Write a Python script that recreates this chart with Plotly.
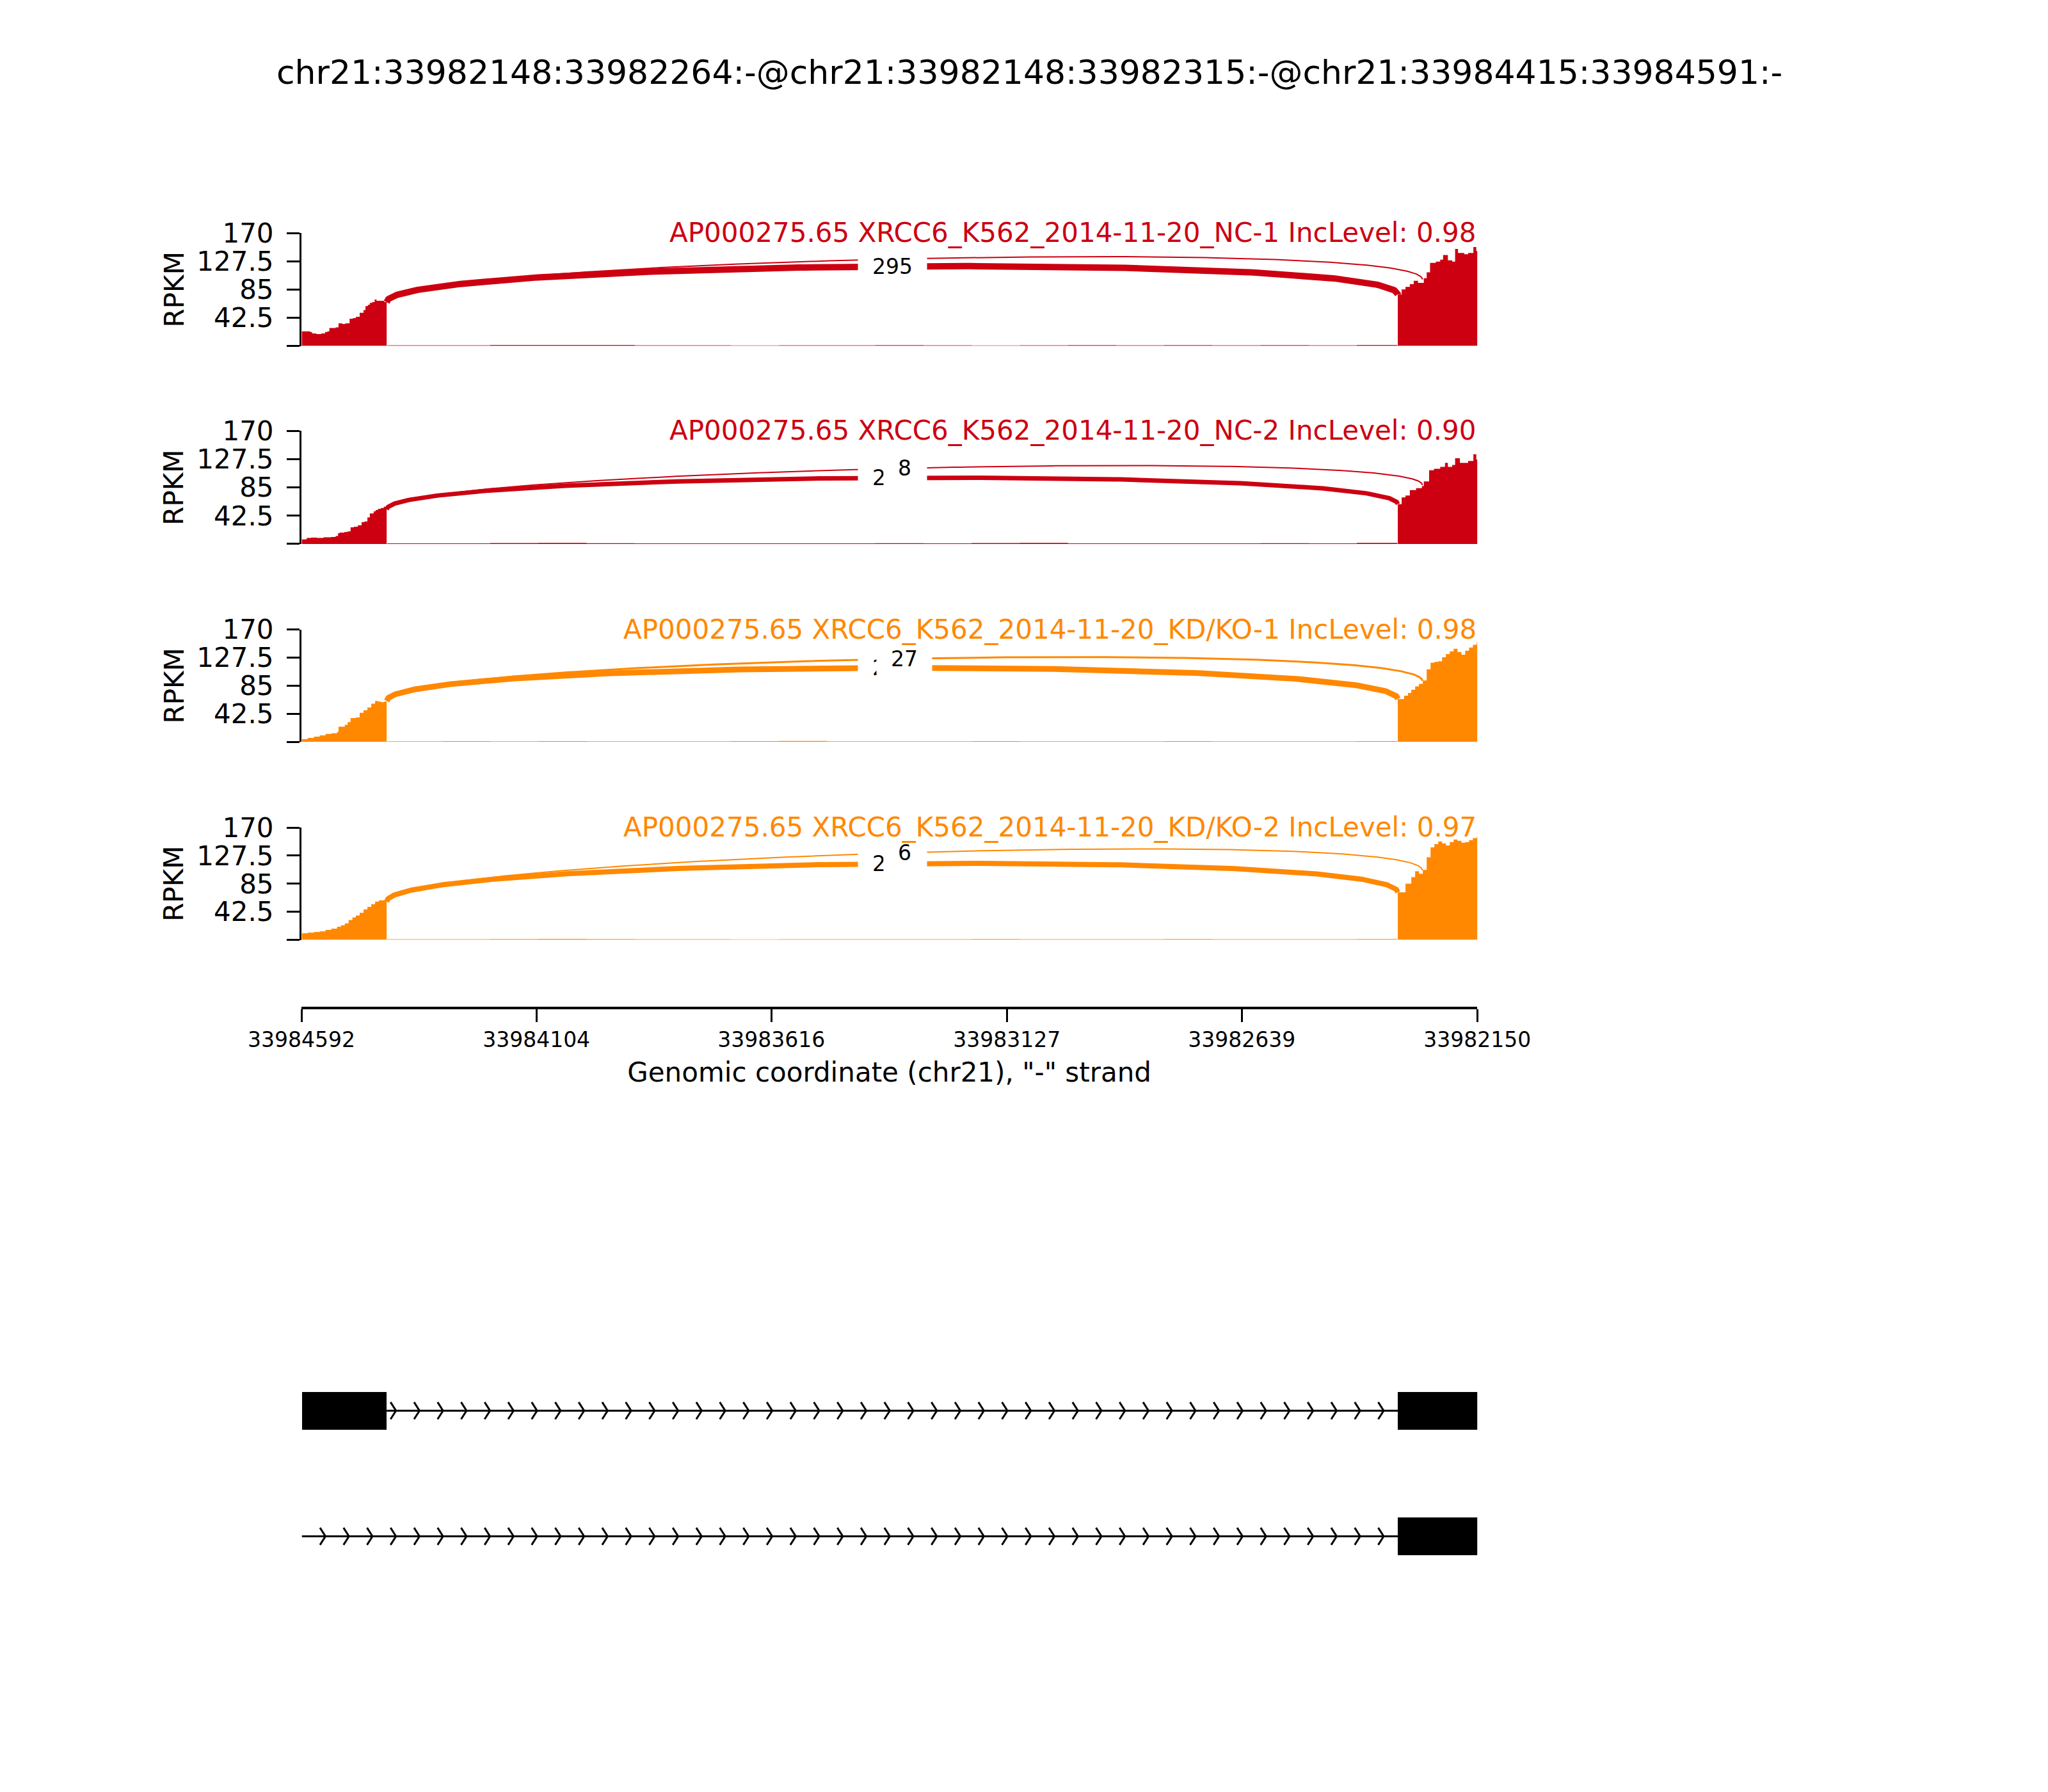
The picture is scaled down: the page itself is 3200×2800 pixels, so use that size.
import numpy as np
import plotly.graph_objects as go

# ---------------- data ----------------
TITLE = "chr21:33982148:33982264:-@chr21:33982148:33982315:-@chr21:33984415:33984591:-"
X_LEFT, X_RIGHT = 33984592, 33982150          # plotted range (minus strand, reversed)
xtick_vals = [33984592, 33984104, 33983616, 33983127, 33982639, 33982150]
x_title = 'Genomic coordinate (chr21), "-" strand'

exon_up = (33984591, 33984415)        # upstream exon (left)
exon_dn = (33982315, 33982148)        # downstream exon (right)
jxn_long = (33984415, 33982315)
jxn_short = (33984415, 33982264)

sample_names = ["AP000275.65 XRCC6_K562_2014-11-20_NC-1",
                "AP000275.65 XRCC6_K562_2014-11-20_NC-2",
                "AP000275.65 XRCC6_K562_2014-11-20_KD/KO-1",
                "AP000275.65 XRCC6_K562_2014-11-20_KD/KO-2"]
inc_levels = ["0.98", "0.90", "0.98", "0.97"]
sample_group = ["NC", "NC", "KD", "KD"]

long_counts = [295, 246, 261, 238]      # only first digit visible for samples 2-4
short_counts = [None, 8, 27, 6]         # sample 1 label hidden

y_ticks = [0, 42.5, 85, 127.5, 170]
y_ticktext = ["", "42.5", "85", "127.5", "170"]

# coverage of upstream exon: offsets (bp below 33984591) and RPKM
left_off = [
    [0, 8, 17, 21, 30, 40, 48, 53, 57, 64, 70, 76, 84, 90, 99, 106, 112, 120, 128, 132, 137, 141, 146, 151, 155, 160, 166, 171, 176],
    [0, 10, 19, 31, 45, 61, 70, 75, 78, 88, 95, 101, 108, 116, 124, 130, 136, 141, 149, 153, 158, 164, 170, 173, 176],
    [0, 12, 25, 37, 49, 61, 73, 76, 89, 95, 101, 112, 120, 128, 136, 144, 152, 158, 165, 170, 176],
    [0, 12, 25, 37, 49, 61, 73, 81, 89, 97, 105, 112, 120, 128, 136, 144, 152, 160, 168, 176],
]
left_val = [
    [22, 22, 21, 19, 18, 19, 21, 22, 27, 27, 28, 34, 33, 34, 41, 42, 44, 50, 54, 60, 62, 65, 66, 70, 68, 68, 68, 66, 66],
    [7, 9, 9.5, 9, 10, 10.5, 12, 16, 17, 18, 19, 25, 26, 28, 33, 34, 40, 46, 49, 51, 53, 54, 56, 54, 52],
    [4, 6, 8, 10, 12, 13, 15, 23, 26, 30, 36, 37, 44, 48, 52, 58, 62, 61, 60, 61, 62],
    [10, 11, 12, 13, 15, 17, 20, 22, 25, 30, 34, 37, 41, 46, 50, 54, 58, 60, 60, 58],
]
# coverage of downstream exon: offsets (bp below 33982315) and RPKM
right_off = [
    [0, 8, 16, 25, 33, 42, 54, 60, 67, 79, 88, 94, 100, 104, 113, 119, 125, 138, 146, 157, 163, 167],
    [0, 8, 16, 25, 38, 50, 54, 65, 75, 88, 98, 104, 113, 119, 129, 146, 157, 163, 167],
    [0, 5, 13, 21, 28, 36, 44, 52, 60, 68, 76, 84, 92, 100, 108, 116, 124, 132, 140, 148, 156, 164, 167],
    [0, 5, 16, 28, 36, 44, 52, 60, 68, 76, 84, 92, 100, 108, 116, 124, 132, 140, 148, 156, 164, 167],
]
right_val = [
    [77.5, 85, 89, 93, 98, 95, 102, 111, 125, 127, 130, 137, 137, 129, 127, 146, 140, 138, 140, 149, 143, 137],
    [60, 70, 73, 81, 84, 87, 94, 111, 113, 116, 122, 116, 119, 129, 122, 125, 135, 127, 122],
    [65, 65, 70, 74, 79, 84, 88, 93, 110, 120, 121, 122, 128, 133, 137, 141, 136, 132, 138, 143, 147, 151, 150],
    [72, 72, 85, 95, 104, 100, 106, 125, 140, 145, 149, 146, 143, 148, 152, 150, 147, 148, 151, 154, 156, 155],
]
# faint intronic coverage
intron_pos = [33984414, 33984300, 33984200, 33984100, 33984000, 33983900, 33983800, 33983700,
              33983600, 33983500, 33983400, 33983300, 33983200, 33983100, 33983000, 33982900,
              33982800, 33982700, 33982600, 33982500, 33982400, 33982316]
intron_val = [
    [1, 1, 1.5, 1.5, 1.5, 1, 1, 0.8, 1, 1, 1.2, 1, 0.8, 1, 1.2, 1, 1.3, 1, 1.2, 1, 1.5, 1],
    [1, 1, 1.3, 1.5, 1.2, 1, 1, 0.8, 1, 1, 1.2, 1, 1.4, 1.5, 1, 1, 1, 1, 1.2, 1, 1.5, 1],
    [1, 1.2, 1, 1.2, 1, 1, 1, 1.2, 1.5, 1, 1, 1, 1.2, 1, 1, 1, 1.2, 1, 1, 1, 1.2, 1],
    [1, 1, 1.2, 1.5, 1.2, 1, 1, 0.8, 1, 1, 1, 1, 1.3, 1, 1, 1, 1.2, 1, 1, 1, 1.2, 1],
]

# gene structure
tx_rows = [1, 0]
tx_exons = [[exon_up, exon_dn], [exon_dn]]
tx_span = [(33984415, 33982315), (33984591, 33982315)]   # intron lines
TX_START = 33984591
N_CHEVRONS = 50

# ---------------- style ----------------
W, H = 3200, 2800
FONT = "DejaVu Sans"
group_color = {"NC": "#CC0011", "KD": "#FF8800"}
long_width = [10, 7, 9, 8]
short_width = [2, 2, 3, 2]
ARC_FACTOR = 0.43
panel_top = [335, 647, 960, 1272]
panel_bot = [513, 825, 1137, 1449]
XL, XR = 400, 2339

def py(p):
    return 1 - p / H

x_dom = [XL / W, XR / W]

fig = go.Figure()
annotations = []

def bezier(p0, p1, p2, p3, t):
    return ((1 - t) ** 3) * p0 + 3 * ((1 - t) ** 2) * t * p1 + 3 * (1 - t) * t ** 2 * p2 + t ** 3 * p3

t = np.linspace(0, 1, 300)

for i in range(4):
    n = i + 1
    xa, ya = f"x{n}", f"y{n}"
    col = group_color[sample_group[i]]
    lx = exon_up[0] - np.array(left_off[i], dtype=float)
    lv = np.array(left_val[i], dtype=float)
    rx = exon_dn[0] - np.array(right_off[i], dtype=float)
    rv = np.array(right_val[i], dtype=float)
    # coverage
    for xs, ys in [(lx, lv), (rx, rv)]:
        fig.add_trace(go.Scatter(x=xs, y=ys, xaxis=xa, yaxis=ya, mode="lines",
                                 line=dict(width=0, shape="hv", color=col), fill="tozeroy",
                                 fillcolor=col, hoverinfo="skip", showlegend=False))
    fig.add_trace(go.Scatter(x=intron_pos, y=intron_val[i], xaxis=xa, yaxis=ya, mode="lines",
                             line=dict(width=0, shape="hv", color=col), fill="tozeroy",
                             fillcolor=col, opacity=0.6, hoverinfo="skip", showlegend=False))
    # junction arcs
    hmax = ARC_FACTOR * max(lv.max(), rv.max())
    rx_s, rv_s = rx[::-1], rv[::-1]
    lx_s, lv_s = lx[::-1], lv[::-1]
    mids = {}
    for key, (ss1, ss2), w in [("short", jxn_short, short_width[i]), ("long", jxn_long, long_width[i])]:
        ld = float(np.interp(ss1, lx_s, lv_s))
        rd = float(np.interp(ss2, rx_s, rv_s))
        bx = bezier(ss1, ss1, ss2, ss2, t)
        by = bezier(ld, ld + hmax, rd + hmax, rd, t)
        fig.add_trace(go.Scatter(x=bx, y=by, xaxis=xa, yaxis=ya, mode="lines",
                                 line=dict(width=w, color=col), hoverinfo="skip", showlegend=False))
        mids[key] = (bezier(ss1, ss1, ss2, ss2, 0.5), bezier(ld, ld + hmax, rd + hmax, rd, 0.5))
    order = ["long", "short"] if i > 0 else ["short", "long"]
    counts = {"long": long_counts[i], "short": short_counts[i]}
    for key in order:
        if counts[key] is None:
            continue
        mx, my = mids[key]
        annotations.append(dict(x=mx, y=my, xref=xa, yref=ya, text=str(counts[key]), showarrow=False,
                                font=dict(family=FONT, size=33, color="black"), bgcolor="white",
                                borderpad=22, xanchor="center", yanchor="middle"))
    # panel title
    annotations.append(dict(x=XR / W, y=py(panel_top[i] + 25), xref="paper", yref="paper",
                            text=f"{sample_names[i]} IncLevel: {inc_levels[i]}", showarrow=False,
                            font=dict(family=FONT, size=42, color=col), xanchor="right", yanchor="bottom",
                            borderpad=0))
    # RPKM label
    annotations.append(dict(x=190 / W, y=py((panel_top[i] + panel_bot[i]) / 2), xref="paper", yref="paper",
                            text="RPKM", textangle=-90, showarrow=False,
                            font=dict(family=FONT, size=42, color="black"), xanchor="center", yanchor="middle"))
    fig.update_layout(**{
        f"xaxis{n}": dict(domain=x_dom, range=[X_LEFT, X_RIGHT], visible=False, anchor=ya, fixedrange=True),
        f"yaxis{n}": dict(domain=[py(panel_bot[i]), py(panel_top[i])], range=[0, 170], anchor=xa,
                          tickvals=y_ticks, ticktext=y_ticktext, ticks="outside", ticklen=20, tickwidth=3,
                          ticklabelstandoff=12,
                          showline=True, linewidth=3, linecolor="black", tickcolor="black",
                          showgrid=False, zeroline=False,
                          tickfont=dict(family=FONT, size=42, color="black")),
    })

# genomic coordinate axis (5)
fig.add_trace(go.Scatter(x=[X_LEFT, X_RIGHT], y=[0, 0], xaxis="x5", yaxis="y5", mode="markers",
                         marker=dict(opacity=0), hoverinfo="skip", showlegend=False))
fig.update_layout(
    xaxis5=dict(domain=x_dom, range=[X_LEFT, X_RIGHT], anchor="y5", tickvals=xtick_vals,
                ticktext=[str(v) for v in xtick_vals], ticks="outside", ticklen=20, tickwidth=3,
                showline=True, linewidth=4, linecolor="black", tickcolor="black", showgrid=False,
                zeroline=False, tickfont=dict(family=FONT, size=33, color="black"),
                title=dict(text=x_title, font=dict(family=FONT, size=42, color="black"), standoff=18)),
    yaxis5=dict(domain=[py(1554), py(1550)], visible=False, anchor="x5"),
)

# gene structure track (6)
xa, ya = "x6", "y6"
for row, exons in zip(tx_rows, tx_exons):
    fig.add_trace(go.Bar(orientation="h", y=[row] * len(exons), base=[e[1] for e in exons],
                         x=[e[0] - e[1] for e in exons], width=0.3, xaxis=xa, yaxis=ya,
                         marker=dict(color="black", line=dict(width=0)), hoverinfo="skip", showlegend=False))
step = (X_LEFT - X_RIGHT) / N_CHEVRONS
dx = 11.3
dy = 0.068
for row, (a, b) in zip(tx_rows, tx_span):
    fig.add_trace(go.Scatter(x=[a, b], y=[row, row], xaxis=xa, yaxis=ya, mode="lines",
                             line=dict(color="black", width=3), hoverinfo="skip", showlegend=False))
    cx, cy = [], []
    for k in range(1, N_CHEVRONS):
        tip = TX_START - k * step
        if tip < a and tip > b and tip + dx <= a:
            cx += [tip + dx, tip, tip + dx, None]
            cy += [row + dy, row, row - dy, None]
    fig.add_trace(go.Scatter(x=cx, y=cy, xaxis=xa, yaxis=ya, mode="lines",
                             line=dict(color="black", width=3), hoverinfo="skip", showlegend=False))
fig.update_layout(
    xaxis6=dict(domain=x_dom, range=[X_LEFT, X_RIGHT], visible=False, anchor="y6"),
    yaxis6=dict(domain=[py(2488), py(2092)], range=[-0.5, 1.5], visible=False, anchor="x6"),
)

annotations.append(dict(x=0.5, y=py(82), xref="paper", yref="paper", text=TITLE, showarrow=False,
                        font=dict(family=FONT, size=52, color="black"), xanchor="center", yanchor="middle"))

fig.update_layout(width=W, height=H, margin=dict(l=0, r=0, t=0, b=0), paper_bgcolor="white",
                  plot_bgcolor="rgba(0,0,0,0)", annotations=annotations, bargap=0, barmode="overlay",
                  font=dict(family=FONT))
fig.write_html("out.html")
